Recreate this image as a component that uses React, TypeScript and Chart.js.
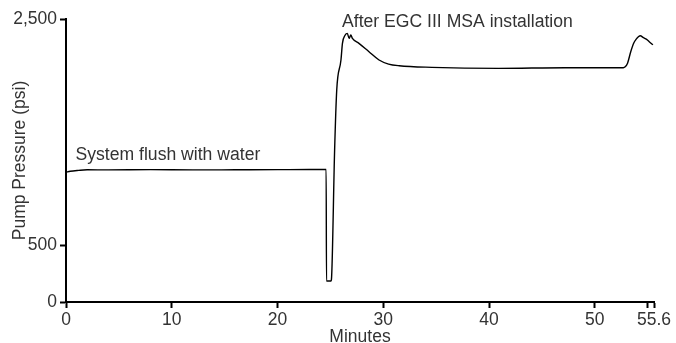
import React, { useEffect, useRef } from "react";
import { Chart, registerables } from "chart.js";

Chart.register(...registerables);

const minutes = [
  0, 0.4, 1.2, 2, 4, 8, 12, 16, 20, 23, 24.6, 24.63, 25.05, 25.1, 25.4, 25.6, 26.0, 26.14, 26.4,
  26.6, 26.77, 26.93, 27.08, 27.7, 28.65, 29.6, 30.5, 31.5, 34.6, 40.9, 47.2, 52.7, 52.85, 53.1,
  53.4, 53.7, 53.9, 54.15, 54.3, 54.6, 54.9, 55.2, 55.5,
];
const pressure = [
  1146, 1155, 1163, 1168, 1167, 1169, 1167, 1168, 1169, 1170, 1170, 185, 185, 200, 1343, 1873,
  2138, 2285, 2359, 2373, 2329, 2359, 2329, 2285, 2211, 2138, 2102, 2087, 2073, 2064, 2070, 2070,
  2075, 2110, 2211, 2290, 2320, 2345, 2352, 2335, 2320, 2295, 2272,
];

const xTickValues = [0, 10, 20, 30, 40, 50, 55, 55.6];
const xTickLabels = ["0", "10", "20", "30", "40", "50", "", "55.6"];
const yTickValues = [0, 500, 2500];
const yTickLabels = ["0", "500", "2,500"];

const noteTexts = ["System flush with water", "After EGC III MSA installation"];
const noteX = [0.9, 26.1];
const noteY = [1299, 2469];

const FONT = "'Liberation Sans', Arial, sans-serif";
const TEXT = "#333333";

export default function App() {
  const ref = useRef<HTMLCanvasElement | null>(null);

  useEffect(() => {
    if (!ref.current) return;
    const notesPlugin = {
      id: "notes",
      afterDatasetsDraw(chart: any) {
        const ctx = chart.ctx;
        ctx.save();
        ctx.font = `17.6px ${FONT}`;
        ctx.fillStyle = TEXT;
        ctx.textAlign = "left";
        ctx.textBaseline = "middle";
        noteTexts.forEach((t, i) => {
          ctx.fillText(t, chart.scales.x.getPixelForValue(noteX[i]), chart.scales.y.getPixelForValue(noteY[i]));
        });
        ctx.restore();
      },
    };
    const chart = new Chart(ref.current, {
      type: "line",
      data: {
        datasets: [
          {
            data: minutes.map((m, i) => ({ x: m, y: pressure[i] })),
            borderColor: "#000",
            borderWidth: 1.4,
            pointRadius: 0,
            fill: false,
            cubicInterpolationMode: "monotone",
          },
        ],
      },
      options: {
        animation: false,
        responsive: false,
        maintainAspectRatio: false,
        layout: { padding: { top: 19, right: 22, left: 10, bottom: 0 } },
        plugins: { legend: { display: false }, tooltip: { enabled: false } },
        scales: {
          x: {
            type: "linear",
            min: 0,
            max: 55.6,
            afterBuildTicks: (s: any) => {
              s.ticks = xTickValues.map((v) => ({ value: v }));
            },
            afterFit: (s: any) => {
              s.height = 41;
            },
            ticks: {
              autoSkip: false,
              maxRotation: 0,
              padding: 2,
              color: TEXT,
              font: { family: FONT, size: 17.5 },
              callback: (v: any) => {
                const i = xTickValues.indexOf(Number(v));
                return i >= 0 ? xTickLabels[i] : "";
              },
            },
            grid: { drawOnChartArea: false, drawTicks: true, tickLength: 6, tickColor: "#000", tickWidth: 2 },
            border: { display: true, color: "#000", width: 2 },
            title: {
              display: true,
              text: "Minutes",
              color: TEXT,
              font: { family: FONT, size: 17.5 },
              padding: { top: 0, bottom: -5 },
            },
          },
          y: {
            type: "linear",
            min: 0,
            max: 2500,
            afterBuildTicks: (s: any) => {
              s.ticks = yTickValues.map((v) => ({ value: v }));
            },
            afterFit: (s: any) => {
              s.width = 56;
            },
            ticks: {
              autoSkip: false,
              padding: 3,
              color: TEXT,
              font: { family: FONT, size: 17.5 },
              callback: (v: any) => {
                const i = yTickValues.indexOf(Number(v));
                return i >= 0 ? yTickLabels[i] : "";
              },
            },
            grid: { drawOnChartArea: false, drawTicks: true, tickLength: 6, tickColor: "#000", tickWidth: 2 },
            border: { display: true, color: "#000", width: 2 },
            title: {
              display: true,
              text: "Pump Pressure (psi)",
              color: TEXT,
              font: { family: FONT, size: 17.5 },
              padding: { top: 0, bottom: 0 },
            },
          },
        },
      },
      plugins: [notesPlugin],
    } as any);
    return () => chart.destroy();
  }, []);

  return (
    <div style={{ position: "absolute", left: 0, top: 0, width: 676, height: 343 }}>
      <canvas ref={ref} width={676} height={343} style={{ width: 676, height: 343, display: "block" }} />
    </div>
  );
}
